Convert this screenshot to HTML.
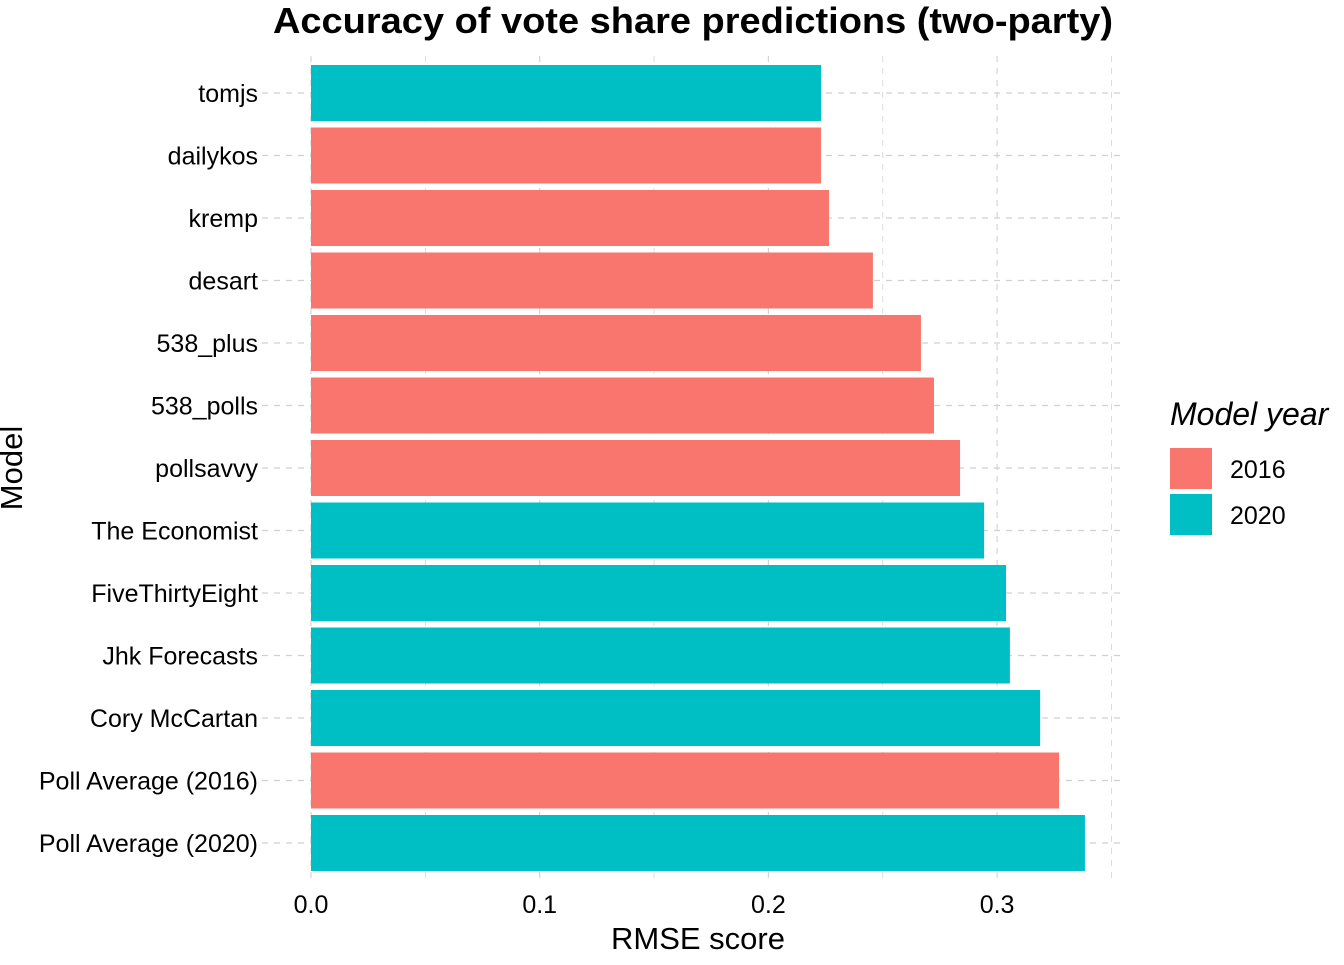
<!DOCTYPE html>
<html><head><meta charset="utf-8">
<style>
body{margin:0;background:#fff;}
svg text{font-family:"Liberation Sans",Arial,sans-serif;}
</style></head>
<body>
<svg id="chart" width="1344" height="960" viewBox="0 0 1344 960">
<text x="273" y="33" textLength="840" lengthAdjust="spacingAndGlyphs" font-size="36" font-weight="bold" fill="#000">Accuracy of vote share predictions (two-party)</text>
<g id="grid"></g>
<g id="bars"></g>
<g id="yticks"></g>
<g id="xticks"></g>
<text x="698" y="949" text-anchor="middle" font-size="31" fill="#000">RMSE score</text>
<text transform="translate(22,468) rotate(-90)" text-anchor="middle" font-size="31" fill="#000">Model</text>
<g>
<text x="1170" y="425" font-size="32" font-style="italic" fill="#000">Model year</text>
<rect x="1170" y="448" width="42" height="41" fill="#F8766D"/>
<text x="1230" y="478" font-size="25" fill="#000">2016</text>
<rect x="1170" y="494" width="42" height="41" fill="#00BFC4"/>
<text x="1230" y="524" font-size="25" fill="#000">2020</text>
</g>
</svg>
<script>
const categories=["tomjs","dailykos","kremp","desart","538_plus","538_polls","pollsavvy","The Economist","FiveThirtyEight","Jhk Forecasts","Cory McCartan","Poll Average (2016)","Poll Average (2020)"];
const values=[0.223,0.223,0.2265,0.2457,0.2667,0.2724,0.2838,0.2943,0.3039,0.3056,0.3188,0.3271,0.3384];
const years=["2020","2016","2016","2016","2016","2016","2016","2020","2020","2020","2020","2016","2020"];
const xTicks=[0,0.1,0.2,0.3];
const xTickLabels=["0.0","0.1","0.2","0.3"];
const xMinor=[0.05,0.15,0.25,0.35];
const colors={"2016":"#F8766D","2020":"#00BFC4"};
const NS="http://www.w3.org/2000/svg";
const x=v=>311+v*2287;
const y=i=>93+i*62.5;
const panelL=262,panelR=1122,panelT=56,panelB=880;
function mk(tag,attrs,parent){const e=document.createElementNS(NS,tag);for(const k in attrs)e.setAttribute(k,attrs[k]);parent.appendChild(e);return e;}
const grid=document.getElementById('grid'),bars=document.getElementById('bars'),yt=document.getElementById('yticks'),xt=document.getElementById('xticks');
xMinor.concat(xTicks).forEach(v=>{
 const l=mk('line',{x1:x(v),x2:x(v),y1:panelT,y2:panelB,stroke:'#d4d4d4','stroke-width':xMinor.includes(v)?0.8:1.2,'stroke-dasharray':'6,6'},grid);
 
 
});
categories.forEach((c,i)=>{
 const l=mk('line',{x1:panelL,x2:panelR,y1:y(i),y2:y(i),stroke:'#d0d0d0','stroke-width':1.2,'stroke-dasharray':'6,6'},grid);
 
 
 const r=mk('rect',{x:x(0),y:y(i)-28,width:x(values[i])-x(0),height:56,fill:colors[years[i]]},bars);
 
 
 const t=mk('text',{x:258,y:y(i)+9,'text-anchor':'end','font-size':25,fill:'#000'},yt);
 t.textContent=c;
 
 
});
xTicks.forEach((v,i)=>{
 const t=mk('text',{x:x(v),y:913,'text-anchor':'middle','font-size':25,fill:'#000'},xt);
 t.textContent=xTickLabels[i];
 
 
});
</script>
</body></html>
